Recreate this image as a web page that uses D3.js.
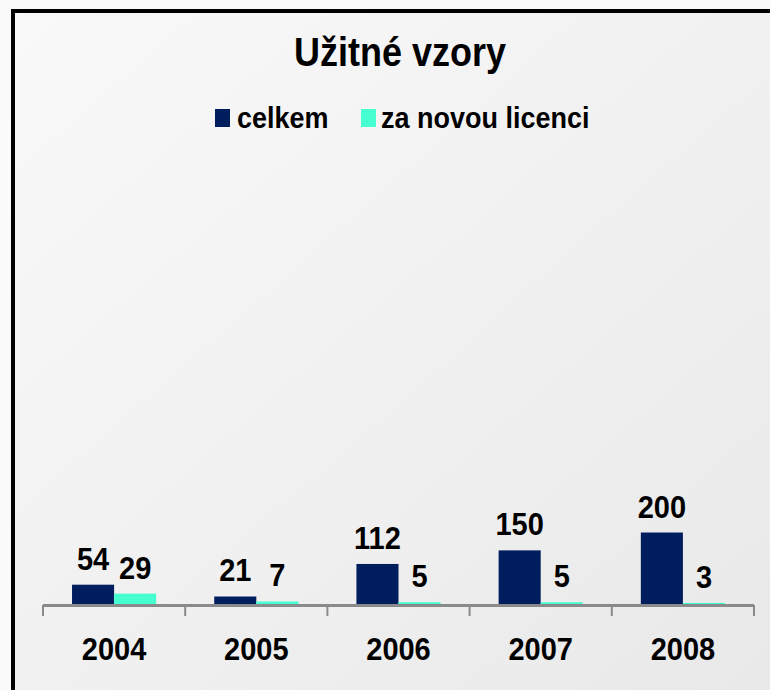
<!DOCTYPE html>
<html>
<head>
<meta charset="utf-8">
<script src="https://cdn.jsdelivr.net/npm/d3@7"></script>
<style>
  body { margin: 0; background: #fafafa; }
  text { font-family: "Liberation Sans", Arial, sans-serif; font-weight: bold; fill: #000; }
</style>
</head>
<body>
<div id="chart"></div>
<script>
// data
var years = ["2004", "2005", "2006", "2007", "2008"];
var celkem = [54, 21, 112, 150, 200];
var novaLicence = [29, 7, 5, 5, 3];
var seriesNames = ["celkem", "za novou licenci"];
var seriesColors = ["#001e5e", "#46ffd0"];

var width = 770, height = 690;

var svg = d3.select("#chart").append("svg")
    .attr("width", width)
    .attr("height", height);

// background with soft gradient
var defs = svg.append("defs");
var grad = defs.append("linearGradient")
    .attr("id", "bg")
    .attr("x1", "0%").attr("y1", "0%")
    .attr("x2", "100%").attr("y2", "100%");
grad.append("stop").attr("offset", "0%").attr("stop-color", "#f9f9f9");
grad.append("stop").attr("offset", "100%").attr("stop-color", "#e8e8e8");

svg.append("rect")
    .attr("x", 13).attr("y", 11)
    .attr("width", 800).attr("height", 700)
    .attr("fill", "url(#bg)")
    .attr("stroke", "#000")
    .attr("stroke-width", 4);

// scales
var x = d3.scaleBand().domain(years).range([43, 754]).padding(0);
var x1 = d3.scaleBand().domain([0, 1]).range([0, x.bandwidth()])
    .paddingInner(0).paddingOuter(0.69);
var y = d3.scaleLinear().domain([0, 1200]).range([604, 175]);

// rows of [value, series index] per year
var rows = years.map(function (yr, i) {
    return { year: yr, vals: [celkem[i], novaLicence[i]] };
});

// title
svg.append("text")
    .attr("transform", "translate(400,66) scale(1,1.12)")
    .attr("text-anchor", "middle")
    .style("font-size", "36px")
    .text("Užitné vzory");

// legend
var legendItems = [{ x: 215, tx: 237 }, { x: 361, tx: 381 }];
var legend = svg.selectAll(".legend")
    .data(seriesNames)
    .enter().append("g")
    .attr("class", "legend");
legend.append("rect")
    .attr("x", function (d, i) { return legendItems[i].x; })
    .attr("y", 109)
    .attr("width", 15)
    .attr("height", 18)
    .attr("fill", function (d, i) { return seriesColors[i]; });
legend.append("text")
    .attr("transform", function (d, i) { return "translate(" + legendItems[i].tx + ",128) scale(1,1.12)"; })
    .style("font-size", "27px")
    .text(function (d) { return d; });

// bars
var group = svg.selectAll(".year")
    .data(rows)
    .enter().append("g")
    .attr("class", "year")
    .attr("transform", function (d) { return "translate(" + x(d.year) + ",0)"; });

group.selectAll("rect")
    .data(function (d) { return d.vals; })
    .enter().append("rect")
    .attr("x", function (d, i) { return x1(i); })
    .attr("y", function (d) { return y(d); })
    .attr("width", x1.bandwidth())
    .attr("height", function (d) { return y(0) - y(d); })
    .attr("fill", function (d, i) { return seriesColors[i]; });

group.selectAll(".val")
    .data(function (d) { return d.vals; })
    .enter().append("text")
    .attr("class", "val")
    .attr("transform", function (d, i) {
        return "translate(" + (x1(i) + x1.bandwidth() / 2) + "," + (y(d) - 15) + ") scale(1,1.1)";
    })
    .attr("text-anchor", "middle")
    .style("font-size", "29px")
    .text(function (d) { return d; });

// x axis: baseline with ticks at category boundaries
var axis = svg.append("g");
axis.append("line")
    .attr("x1", 43).attr("x2", 754)
    .attr("y1", 605.5).attr("y2", 605.5)
    .attr("stroke", "#8a8a8a")
    .attr("stroke-width", 3);
var bounds = years.map(function (d) { return x(d); }).concat([x.range()[1]]);
axis.selectAll(".tick")
    .data(bounds)
    .enter().append("line")
    .attr("x1", function (d) { return d; })
    .attr("x2", function (d) { return d; })
    .attr("y1", 605).attr("y2", 616)
    .attr("stroke", "#8a8a8a")
    .attr("stroke-width", 2);
axis.selectAll(".lbl")
    .data(years)
    .enter().append("text")
    .attr("transform", function (d) { return "translate(" + (x(d) + x.bandwidth() / 2) + ",660) scale(1,1.1)"; })
    .attr("text-anchor", "middle")
    .style("font-size", "29px")
    .text(function (d) { return d; });
</script>
</body>
</html>
